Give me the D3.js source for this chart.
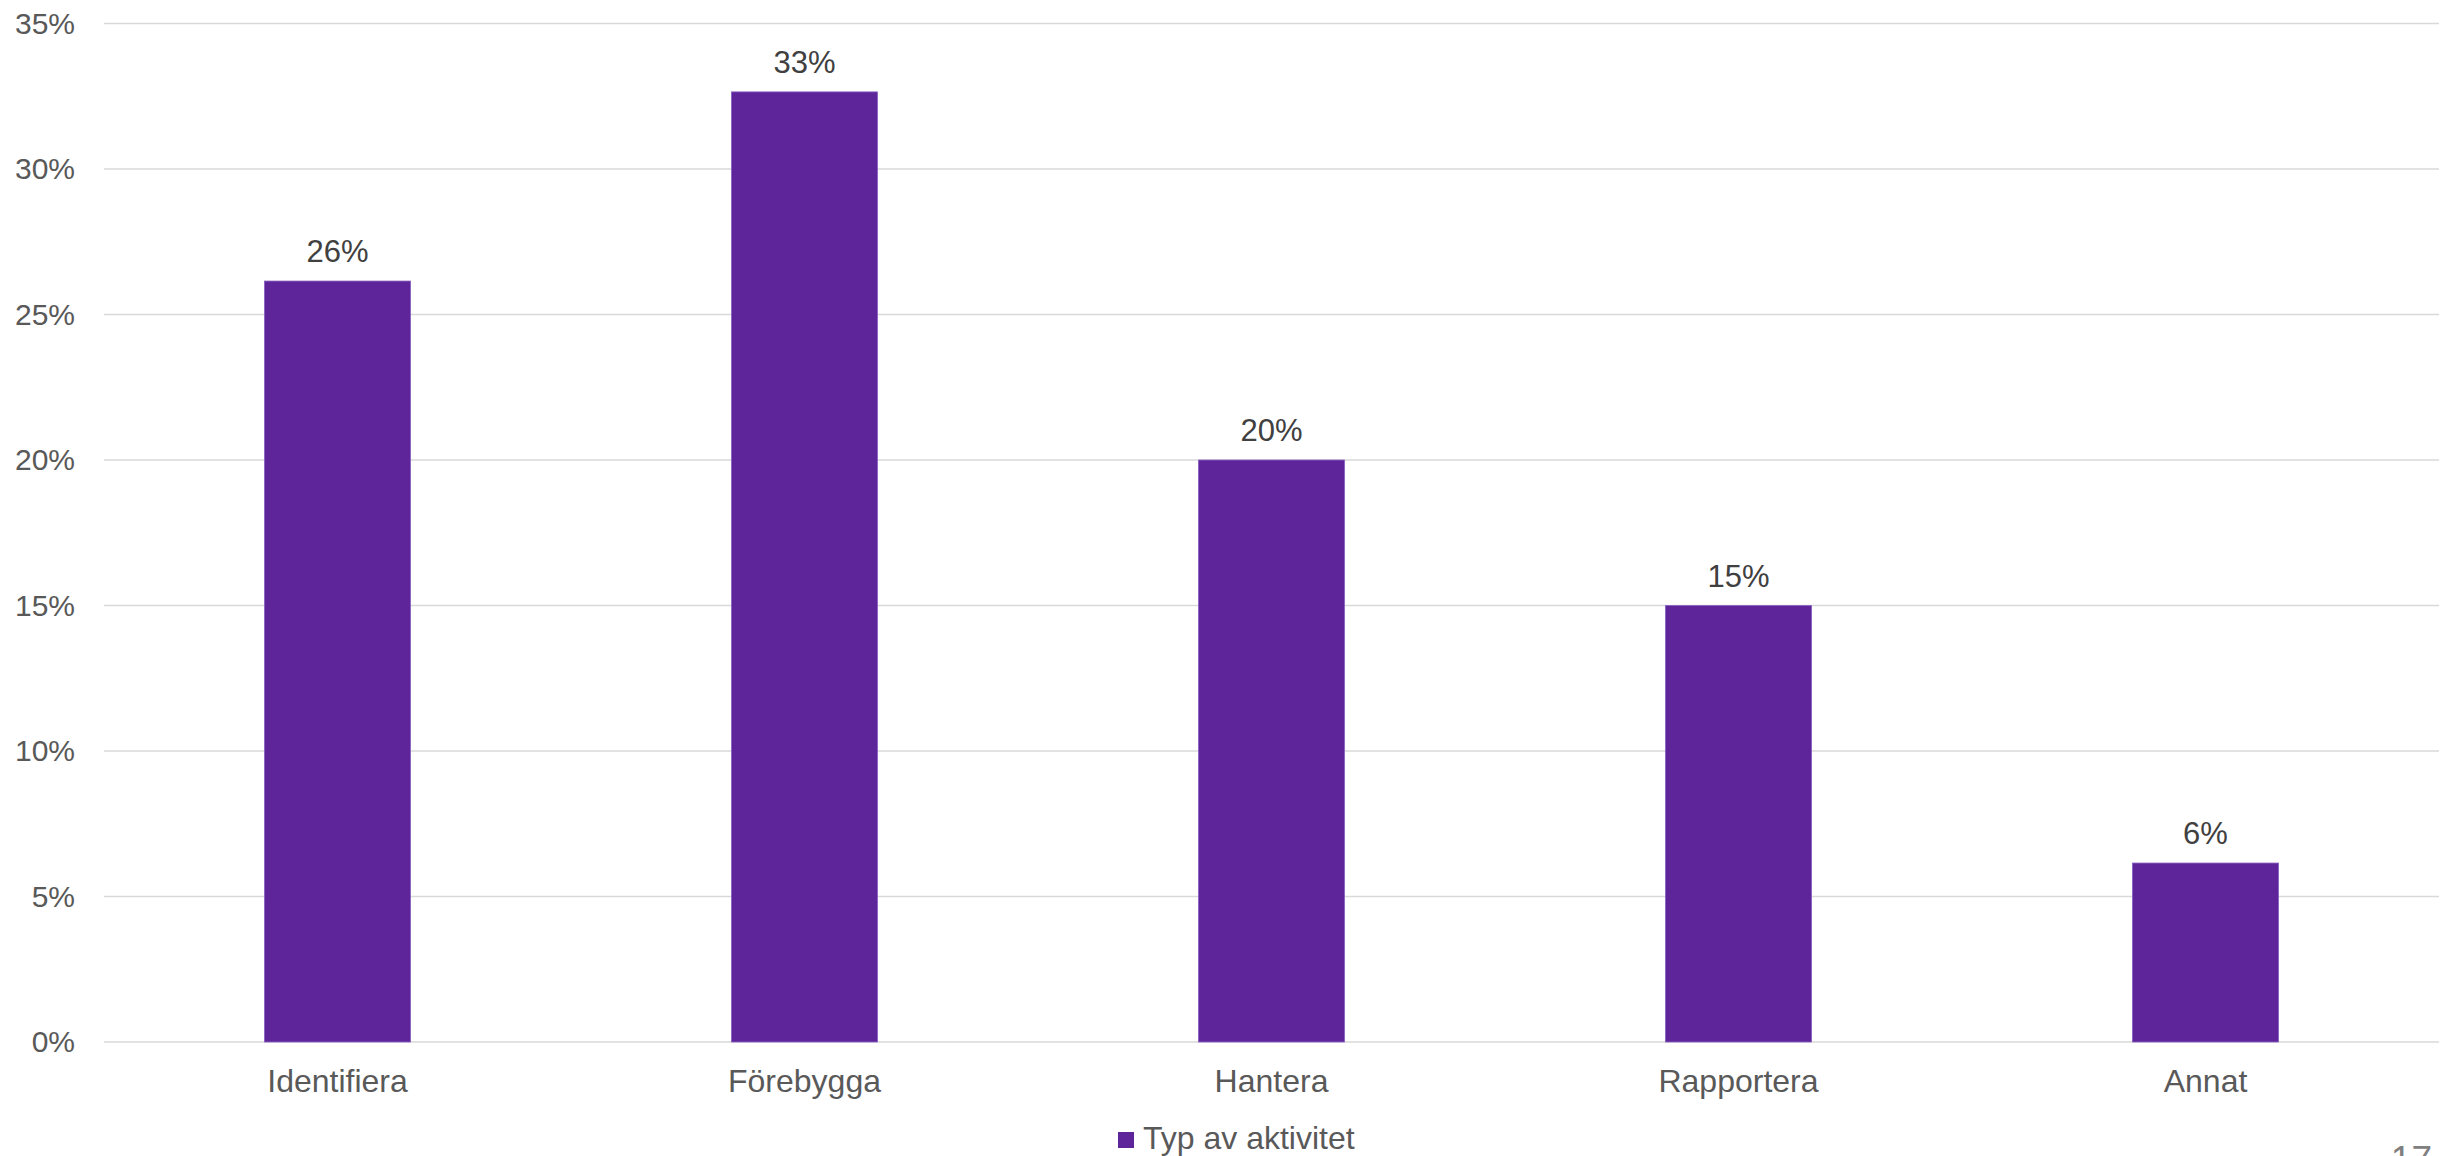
<!DOCTYPE html>
<html>
<head>
<meta charset="utf-8">
<script src="https://cdn.jsdelivr.net/npm/d3@7"></script>
<style>
  html, body { margin: 0; padding: 0; background: #ffffff; }
  svg { display: block; }
</style>
</head>
<body>
<svg id="chart" width="2447" height="1156"></svg>
<script>
const categories = ["Identifiera", "Förebygga", "Hantera", "Rapportera", "Annat"];
const values = [0.2615, 0.3265, 0.200, 0.150, 0.0615];
const valueLabels = ["26%", "33%", "20%", "15%", "6%"];
const yTicks = [0, 0.05, 0.10, 0.15, 0.20, 0.25, 0.30, 0.35];
const seriesName = "Typ av aktivitet";
const pageNumber = "17";

const W = 2447, H = 1156;
const margin = { left: 104, right: 8, top: 23.5, bottom: 114 };
const svg = d3.select("#chart");
const font = "'Liberation Sans', Arial, sans-serif";

const x = d3.scaleBand()
  .domain(categories)
  .range([margin.left, W - margin.right])
  .paddingInner(0.687)
  .paddingOuter(0.687 / 2);

const y = d3.scaleLinear()
  .domain([0, 0.35])
  .range([H - margin.bottom, margin.top]);

// gridlines
svg.append("g")
  .selectAll("line")
  .data(yTicks)
  .join("line")
  .attr("x1", margin.left)
  .attr("x2", W - margin.right)
  .attr("y1", d => y(d))
  .attr("y2", d => y(d))
  .attr("stroke", "#d9d9d9")
  .attr("stroke-width", 1.5);

// y axis labels
const yAxis = d3.axisLeft(y)
  .tickValues(yTicks)
  .tickFormat(d3.format(".0%"))
  .tickSize(0)
  .tickPadding(0);
const yg = svg.append("g")
  .attr("transform", `translate(${margin.left - 29},0)`)
  .call(yAxis);
yg.select(".domain").remove();
yg.selectAll("text")
  .attr("font-family", font)
  .attr("font-size", 30)
  .attr("fill", "#595959")
  .attr("dy", "0.32em");

// bars
svg.append("g")
  .selectAll("rect")
  .data(categories)
  .join("rect")
  .attr("x", d => x(d))
  .attr("width", x.bandwidth())
  .attr("y", (d, i) => y(values[i]))
  .attr("height", (d, i) => y(0) - y(values[i]))
  .attr("fill", "#5e259b")
  .attr("stroke", "#8a62c2")
  .attr("stroke-width", 0.8);

// data labels
svg.append("g")
  .selectAll("text")
  .data(categories)
  .join("text")
  .attr("x", d => x(d) + x.bandwidth() / 2)
  .attr("y", (d, i) => y(values[i]) - 19)
  .attr("text-anchor", "middle")
  .attr("font-family", font)
  .attr("font-size", 31)
  .attr("fill", "#404040")
  .text((d, i) => valueLabels[i]);

// x axis labels
const xAxis = d3.axisBottom(x).tickSize(0).tickPadding(0);
const xg = svg.append("g")
  .attr("transform", `translate(0,${y(0)})`)
  .call(xAxis);
xg.select(".domain").remove();
xg.selectAll("text")
  .attr("font-family", font)
  .attr("font-size", 32)
  .attr("fill", "#595959")
  .attr("dy", null)
  .attr("y", 50);

// legend
const lg = svg.append("g");
lg.append("rect")
  .attr("x", 1118).attr("y", 1132)
  .attr("width", 16).attr("height", 16)
  .attr("fill", "#5e259b");
lg.append("text")
  .attr("x", 1143).attr("y", 1149)
  .attr("font-family", font)
  .attr("font-size", 32)
  .attr("fill", "#595959")
  .text(seriesName);

// page number (partially cut at the bottom)
svg.append("text")
  .attr("x", 2432).attr("y", 1172)
  .attr("text-anchor", "end")
  .attr("font-family", font)
  .attr("font-size", 37)
  .attr("fill", "#808080")
  .text(pageNumber);
</script>
</body>
</html>
